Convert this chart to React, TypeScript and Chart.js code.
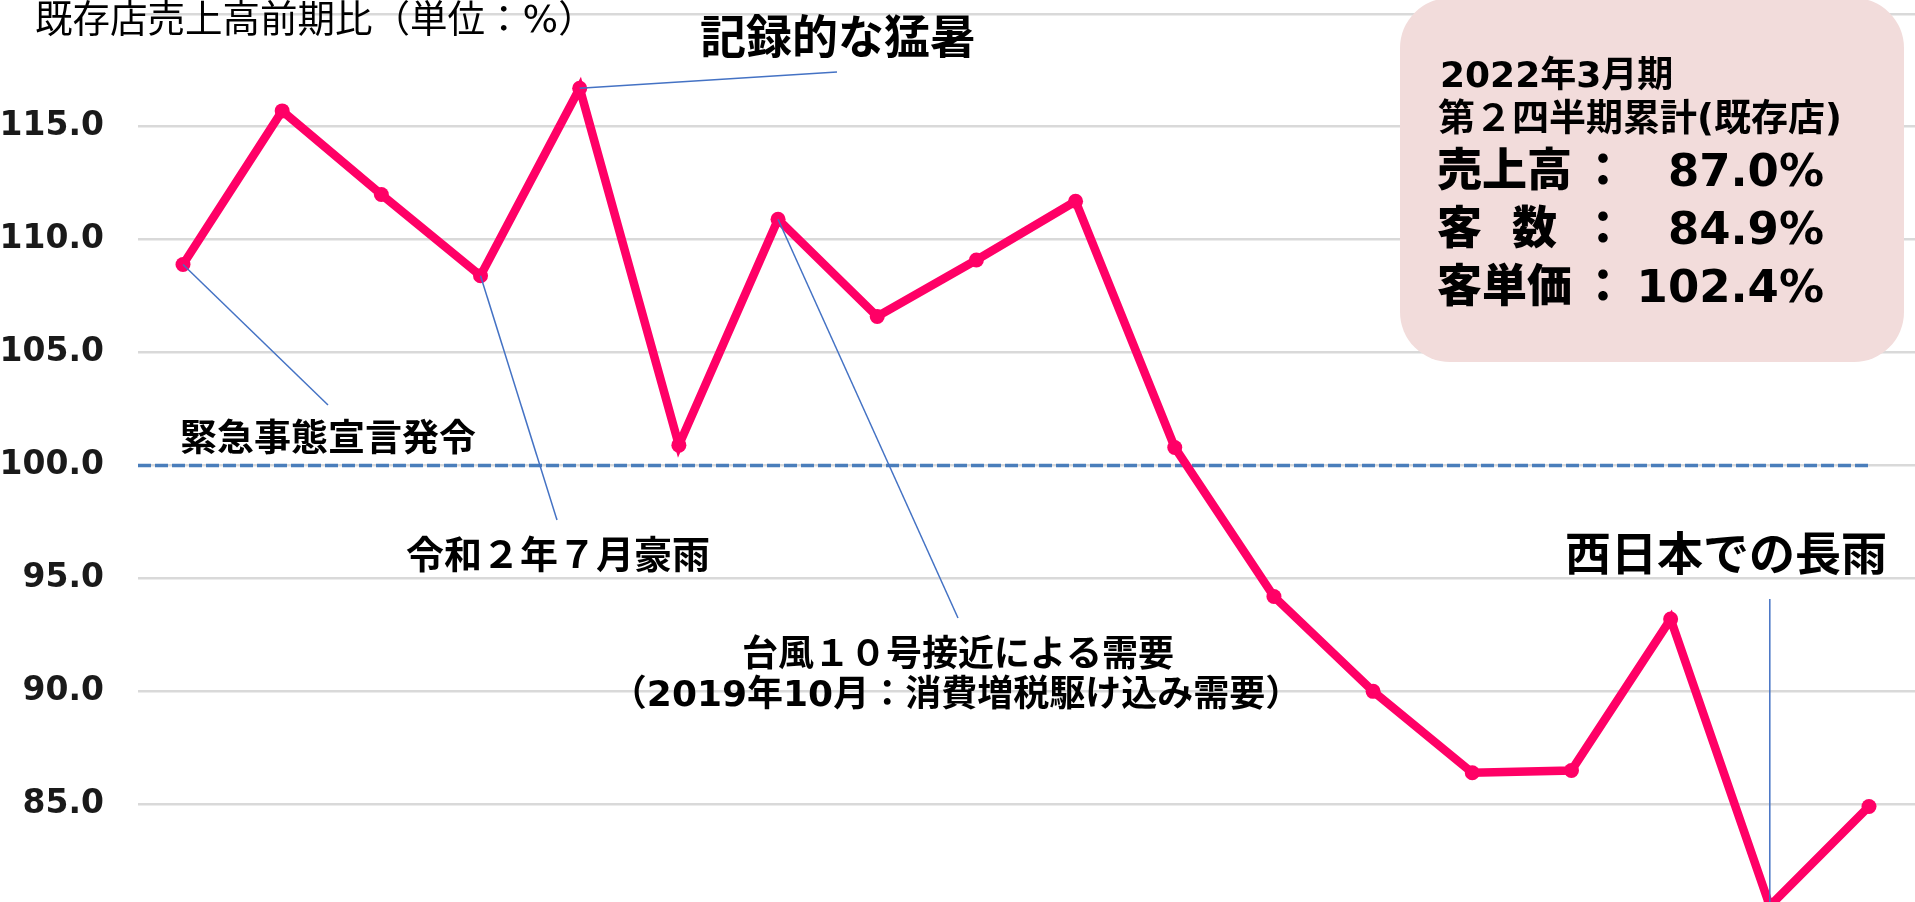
import React, { useEffect, useRef } from 'react';
import { Chart, registerables } from 'chart.js';

Chart.register(...registerables);

// ---- data ----
const months = [
  '2020年4月', '2020年5月', '2020年6月', '2020年7月', '2020年8月', '2020年9月',
  '2020年10月', '2020年11月', '2020年12月', '2021年1月', '2021年2月', '2021年3月',
  '2021年4月', '2021年5月', '2021年6月', '2021年7月', '2021年8月', '2021年9月',
];
const salesYoY = [
  108.9, 115.7, 112.0, 108.4, 116.7, 100.9,
  110.9, 106.6, 109.1, 111.7, 100.8, 94.2,
  90.0, 86.4, 86.5, 93.2, 80.5, 84.9,
];
const baselineValue = 100;
const yTickValues = [85, 90, 95, 100, 105, 110, 115, 120];
const yLabelledTicks = [85, 90, 95, 100, 105, 110, 115];
const yRange = [80.675, 120.609];
const xRange = [-0.4537, 17.464];

const titleText = '既存店売上高前期比（単位：%）';
const eventIndex = [0, 3, 4, 6, 16];
const eventTexts = ['緊急事態宣言発令', '令和２年７月豪雨', '記録的な猛暑', '台風１０号接近による需要', '西日本での長雨'];
const eventSubText = '（2019年10月：消費増税駆け込み需要）';
const summaryHeader = ['2022年3月期', '第２四半期累計(既存店)'];
const summaryLabels = ['売上高', '客数', '客単価'];
const summaryValues = ['87.0%', '84.9%', '102.4%'];

// ---- styles ----
const FONT = "'DejaVu Sans', 'Noto Sans CJK JP', sans-serif";
const CJK = "'Noto Sans CJK JP', sans-serif";
const LINE_PINK = '#FF0066';
const LEADER = '#4472C4';
const DASH = '#4A7EBB';

function drawText(
  ctx: CanvasRenderingContext2D, s: string, x: number, y: number, font: string,
  align: CanvasTextAlign = 'left', baseline: CanvasTextBaseline = 'alphabetic', color = '#000'
) {
  ctx.font = font;
  ctx.textAlign = align;
  ctx.textBaseline = baseline;
  ctx.fillStyle = color;
  ctx.fillText(s, x, y);
}

function roundRect(ctx: CanvasRenderingContext2D, x: number, y: number, w: number, h: number, r: number) {
  ctx.beginPath();
  ctx.moveTo(x + r, y);
  ctx.lineTo(x + w - r, y);
  ctx.arcTo(x + w, y, x + w, y + r, r);
  ctx.lineTo(x + w, y + h - r);
  ctx.arcTo(x + w, y + h, x + w - r, y + h, r);
  ctx.lineTo(x + r, y + h);
  ctx.arcTo(x, y + h, x, y + h - r, r);
  ctx.lineTo(x, y + r);
  ctx.arcTo(x, y, x + r, y, r);
  ctx.closePath();
}

const annotationPlugin = {
  id: 'annotations',
  afterDatasetsDraw(chart: any) {
    const ctx: CanvasRenderingContext2D = chart.ctx;
    const meta = chart.getDatasetMeta(0);
    const p = (i: number) => meta.data[i];
    ctx.save();
    // leader lines
    ctx.strokeStyle = LEADER;
    ctx.lineWidth = 1.5;
    const ends: [number, number][] = [[328, 405], [557, 520], [837, 72], [958, 618]];
    for (let k = 0; k < 4; k++) {
      const pt = p(eventIndex[k]);
      ctx.beginPath();
      ctx.moveTo(pt.x, pt.y);
      ctx.lineTo(ends[k][0], ends[k][1]);
      ctx.stroke();
    }
    const last = p(eventIndex[4]);
    ctx.beginPath();
    ctx.moveTo(last.x, 599);
    ctx.lineTo(last.x, last.y);
    ctx.stroke();

    // event texts
    drawText(ctx, eventTexts[0], 328, 437, `bold 37px ${CJK}`, 'center', 'middle');
    drawText(ctx, eventTexts[1], 558, 554, `bold 38px ${CJK}`, 'center', 'middle');
    drawText(ctx, eventTexts[2], 838, 36, `bold 46px ${CJK}`, 'center', 'middle');
    drawText(ctx, eventTexts[3], 958, 652, `bold 36px ${CJK}`, 'center', 'middle');
    drawText(ctx, eventSubText, 956, 697, `bold 36px ${FONT}`, 'center', 'middle');
    drawText(ctx, eventTexts[4], 1726, 553, `bold 46px ${CJK}`, 'center', 'middle');
    ctx.restore();
  },
  afterDraw(chart: any) {
    const ctx: CanvasRenderingContext2D = chart.ctx;
    ctx.save();
    // title
    drawText(ctx, titleText, 35, 22, `normal 37.5px ${FONT}`, 'left', 'middle', '#000');
    // summary box
    roundRect(ctx, 1400, -2, 504, 364, 50);
    ctx.fillStyle = '#F2DCDB';
    ctx.fill();
    drawText(ctx, summaryHeader[0], 1440, 87, `bold 36px ${FONT}`);
    drawText(ctx, summaryHeader[1], 1438, 131, `bold 37px ${FONT}`);
    const big = `900 45px ${FONT}`;
    const rows = [186, 244, 302];
    drawText(ctx, summaryLabels[0], 1437, rows[0], big);
    drawText(ctx, summaryLabels[1].charAt(0), 1437, rows[1], big);
    drawText(ctx, summaryLabels[1].charAt(1), 1512, rows[1], big);
    drawText(ctx, summaryLabels[2], 1437, rows[2], big);
    for (let r = 0; r < 3; r++) {
      drawText(ctx, '：', 1603, rows[r], big, 'center');
      drawText(ctx, summaryValues[r], 1824, rows[r], big, 'right');
    }
    ctx.restore();
  },
};

export default function App() {
  const ref = useRef<HTMLCanvasElement | null>(null);
  useEffect(() => {
    if (!ref.current) return;
    const chart = new Chart(ref.current, {
      type: 'line',
      data: {
        labels: months,
        datasets: [
          {
            label: '既存店売上高前期比',
            data: salesYoY.map((v, i) => ({ x: i, y: v })),
            borderColor: LINE_PINK,
            backgroundColor: LINE_PINK,
            borderWidth: 8.5,
            pointRadius: 7.5,
            pointBorderWidth: 0,
            pointBackgroundColor: LINE_PINK,
            tension: 0,
            clip: false as any,
          },
          {
            label: '100',
            data: [{ x: xRange[0], y: baselineValue }, { x: salesYoY.length - 1, y: baselineValue }],
            borderColor: DASH,
            borderWidth: 3.5,
            borderDash: [13, 4],
            pointRadius: 0,
            tension: 0,
          },
        ],
      },
      options: {
        animation: false,
        responsive: true,
        maintainAspectRatio: false,
        events: [],
        layout: { padding: 0, autoPadding: false } as any,
        plugins: { legend: { display: false }, tooltip: { enabled: false }, title: { display: false } },
        scales: {
          x: {
            type: 'linear',
            min: xRange[0],
            max: xRange[1],
            display: false,
          },
          y: {
            type: 'linear',
            min: yRange[0],
            max: yRange[1],
            border: { display: false },
            grid: { color: '#D9D9D9', lineWidth: 2.5, drawTicks: false },
            ticks: {
              padding: 34,
              color: '#1a1a1a',
              font: { family: "'DejaVu Sans'", size: 33, weight: 'bold' },
              callback: (v: any) => (yLabelledTicks.includes(Number(v)) ? Number(v).toFixed(1) : ''),
            },
            afterBuildTicks: (s: any) => {
              s.ticks = yTickValues.map((v) => ({ value: v }));
            },
            afterFit: (s: any) => {
              s.width = 138;
              s.paddingTop = 0;
              s.paddingBottom = 0;
            },
          } as any,
        },
      },
      plugins: [annotationPlugin],
    });
    return () => chart.destroy();
  }, []);
  return (
    <div style={{ position: 'fixed', left: 0, top: 0, width: 1915, height: 902, background: '#fff' }}>
      <canvas ref={ref} />
    </div>
  );
}
